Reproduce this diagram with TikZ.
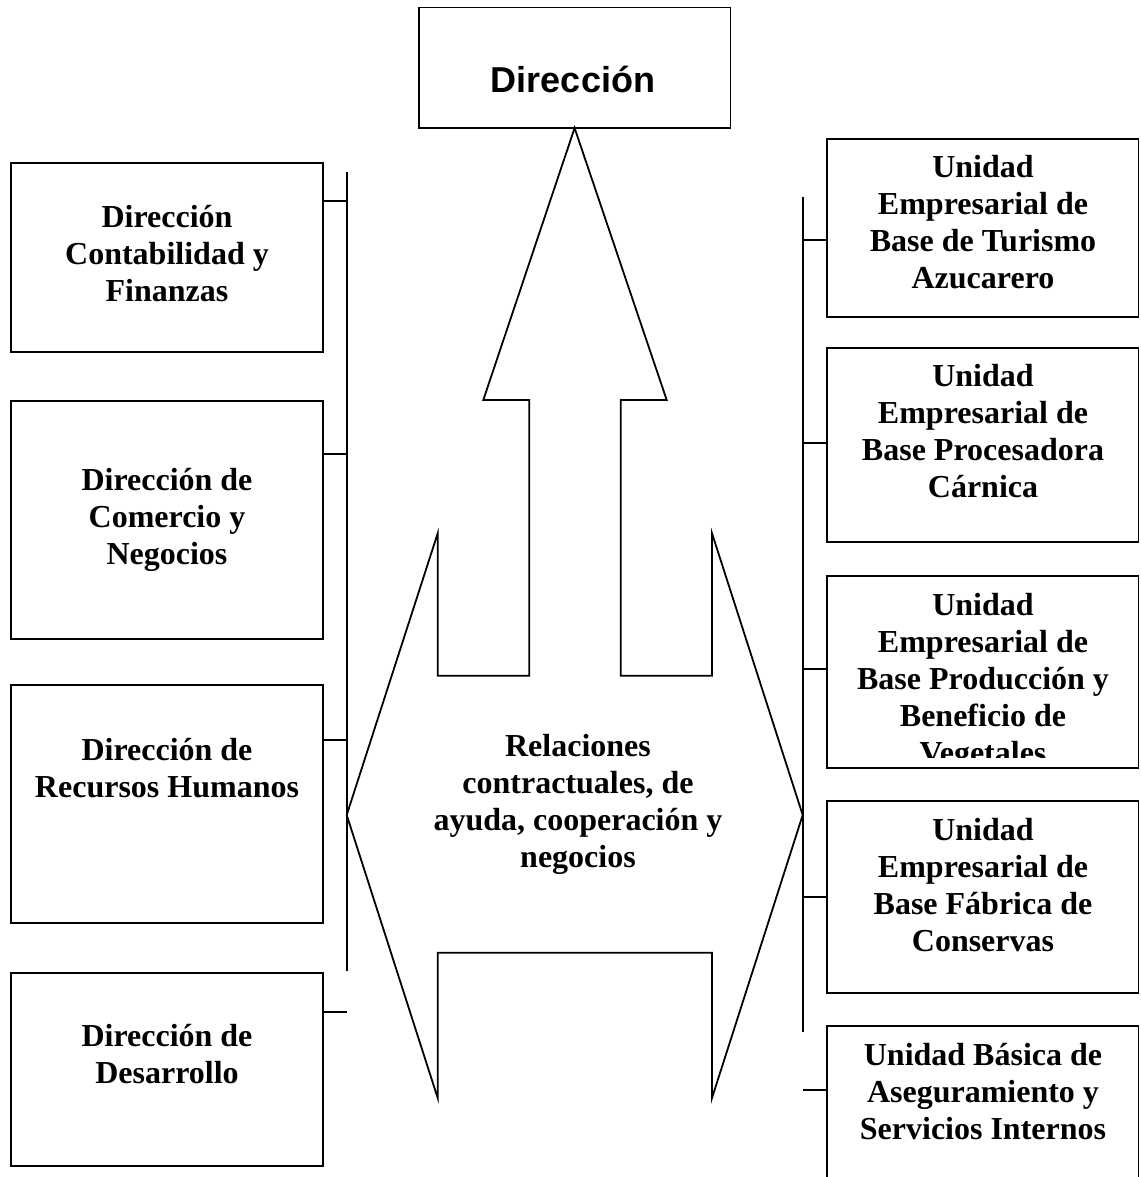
\documentclass[tikz,border=0pt]{standalone}
\usepackage{fontspec}
\setmainfont{Liberation Serif}
\setsansfont{Liberation Sans}
\begin{document}
\begin{tikzpicture}[x=1pt,y=-1pt,
  box/.style={draw, line width=1.8pt, inner sep=0pt, outer sep=0pt, anchor=north west},
  lbox/.style={box, minimum width=312.6pt},
  rbox/.style={box, minimum width=311.8pt},
  lbl/.style={font=\fontsize{32}{37}\selectfont\bfseries, align=center, inner sep=0pt, anchor=north},
  conn/.style={line width=1.8pt},
  bigarrow/.style={line width=1.8pt, line join=miter}]
\useasboundingbox (0,0) rectangle (1140,1177);
\clip (0,0) rectangle (1140,1177);

% top box
\node[box, minimum width=311.6pt, minimum height=120.4pt] (D) at (418.8,7.6) {};
\node[font=\fontsize{36}{42}\selectfont\sffamily\bfseries, anchor=base, inner sep=0pt] (Dt) at (573,93) {Dirección};

% central arrow shape
\draw[bigarrow] (D.south) -- (666.7,400) -- (620.7,400) -- (620.7,675.7) -- (712,675.7) -- (712,533.3)
  -- (802.7,815) -- (712,1098) -- (712,952.7) -- (437.7,952.7) -- (437.7,1098)
  -- (346.7,815) -- (437.7,533.3) -- (437.7,675.7) -- (529.3,675.7) -- (529.3,400) -- (483.3,400) -- cycle;
\node[lbl] (C) at (578,730.6) {\strut Relaciones\\contractuales, de\\ayuda, cooperación y\\negocios};

% left boxes
\node[lbox, minimum height=189.6pt] (L1) at (10.7,162.7) {};
\node[lbox, minimum height=238pt] (L2) at (10.7,401) {};
\node[lbox, minimum height=238pt] (L3) at (10.7,685) {};
\node[lbox, minimum height=193pt] (L4) at (10.7,973) {};
\node[lbl] (L1t) at (167,201.4) {\strut Dirección\\Contabilidad y\\Finanzas};
\node[lbl] (L2t) at (167,464.1) {\strut Dirección de\\Comercio y\\Negocios};
\node[lbl] (L3t) at (167,734.6) {\strut Dirección de\\Recursos Humanos};
\node[lbl] (L4t) at (167,1019.9) {\strut Dirección de\\Desarrollo};

% left connectors
\coordinate (lvtop) at (346.7,172.3);
\coordinate (lvbot) at (346.7,971);
\coordinate (tl1) at (346.7,201);
\coordinate (tl2) at (346.7,454.3);
\coordinate (tl3) at (346.7,740);
\coordinate (tl4) at (346.7,1012);
\draw[conn] (lvtop) -- (lvbot);
\draw[conn] (L1.east |- tl1) -- (tl1);
\draw[conn] (L2.east |- tl2) -- (tl2);
\draw[conn] (L3.east |- tl3) -- (tl3);
\draw[conn] (L4.east |- tl4) -- (tl4);

% right boxes
\node[rbox, minimum height=177.7pt] (R1) at (826.7,139) {};
\node[rbox, minimum height=193.4pt] (R2) at (826.7,348.3) {};
\node[rbox, minimum height=191.7pt] (R3) at (826.7,576) {};
\node[rbox, minimum height=192.6pt] (R4) at (826.7,800.7) {};
\node[rbox, minimum height=190pt] (R5) at (826.7,1026) {};
\node[lbl] (R1t) at (983,151.4) {\strut Unidad\\Empresarial de\\Base de Turismo\\Azucarero};
\node[lbl] (R2t) at (983,360.1) {\strut Unidad\\Empresarial de\\Base Procesadora\\Cárnica};
\begin{scope}
\clip (826.7,576) rectangle (1138.5,757);
\node[lbl] (R3t) at (983,589.4) {\strut Unidad\\Empresarial de\\Base Producción y\\Beneficio de\\Vegetales};
\end{scope}
\node[lbl] (R4t) at (983,814.6) {\strut Unidad\\Empresarial de\\Base Fábrica de\\Conservas};
\node[lbl] (R5t) at (983,1039.1) {\strut Unidad Básica de\\Aseguramiento y\\Servicios Internos};

% right connectors
\coordinate (rvtop) at (803,197);
\coordinate (rvbot) at (803,1031.7);
\coordinate (tr1) at (803,240);
\coordinate (tr2) at (803,442.7);
\coordinate (tr3) at (803,669);
\coordinate (tr4) at (803,897);
\coordinate (tr5) at (803,1090);
\draw[conn] (rvtop) -- (rvbot);
\draw[conn] (tr1) -- (R1.west |- tr1);
\draw[conn] (tr2) -- (R2.west |- tr2);
\draw[conn] (tr3) -- (R3.west |- tr3);
\draw[conn] (tr4) -- (R4.west |- tr4);
\draw[conn] (tr5) -- (R5.west |- tr5);
\end{tikzpicture}
\end{document}
